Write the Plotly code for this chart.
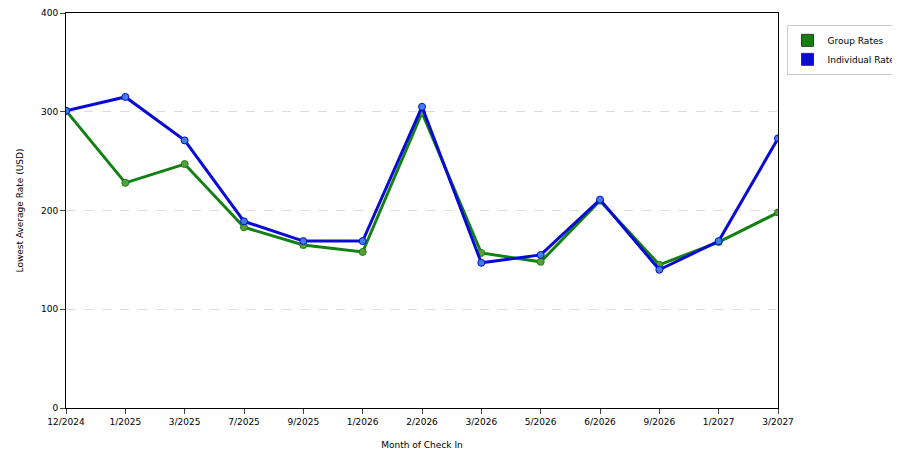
import plotly.graph_objects as go

months = ["12/2024","1/2025","3/2025","7/2025","9/2025","1/2026","2/2026","3/2026","5/2026","6/2026","9/2026","1/2027","3/2027"]
group_rates = [301, 228, 247, 183, 165, 158, 299, 157, 148, 210, 145, 168, 198]
individual_rates = [301, 315, 271, 189, 169, 169, 305, 147, 155, 211, 140, 169, 273]

fig = go.Figure()
for name, vals, col, mk in [("Group Rates", group_rates, "#138013", "#5a9e3a"),
                            ("Individual Rates", individual_rates, "#0a0ad6", "#3f7fe0")]:
    fig.add_trace(go.Scatter(x=months, y=vals, name=name, mode="lines+markers", showlegend=False,
                             line=dict(color=col, width=3),
                             marker=dict(color=mk, size=7, line=dict(color=col, width=1))))
    fig.add_trace(go.Scatter(x=[None], y=[None], name=name, mode="markers",
                             marker=dict(symbol="square", color=col, size=12, line=dict(color="#333", width=1))))

fig.update_layout(
    width=900, height=450, plot_bgcolor="white", paper_bgcolor="white",
    margin=dict(l=58, r=130, t=5, b=50, autoexpand=False),
    font=dict(family="DejaVu Sans", size=9, color="#000"),
    legend=dict(x=1.012, y=0.97, xanchor="left", yanchor="top", bordercolor="#ccc", borderwidth=1,
                font=dict(size=9), itemwidth=30, tracegroupgap=2),
    xaxis=dict(title=dict(text="Month of Check In", font=dict(size=9)), type="category", automargin=False,
               showline=True, linecolor="#000", mirror=True, ticks="outside", ticklen=5,
               showgrid=False, range=[0, 12], tickangle=0),
    yaxis=dict(title=dict(text="Lowest Average Rate (USD)", font=dict(size=9)), range=[0, 400], automargin=False,
               dtick=100, showline=True, linecolor="#000", mirror=True, ticks="outside", ticklen=5,
               showgrid=True, gridcolor="#ddd", griddash="dash", zeroline=False),
)
fig.write_html("out.html")
